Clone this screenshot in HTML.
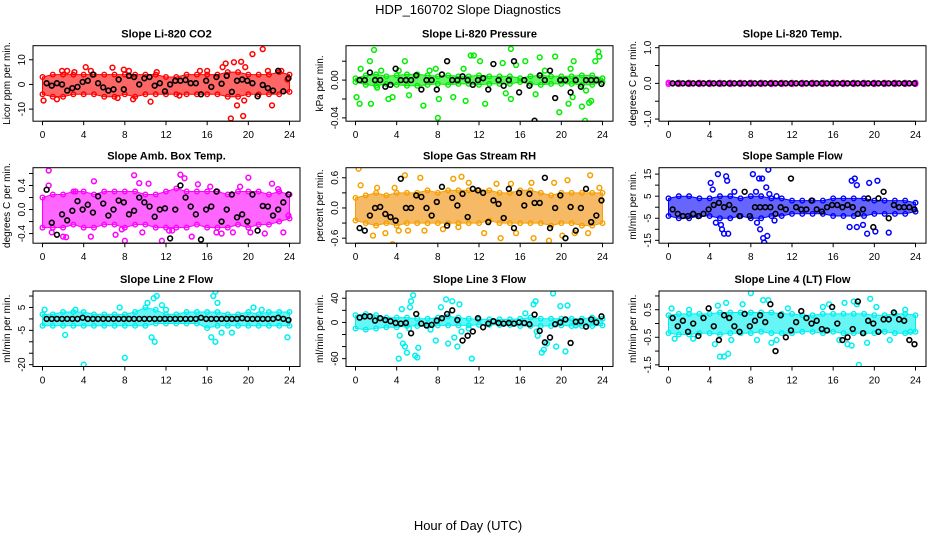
<!DOCTYPE html>
<html><head><meta charset="utf-8">
<style>
html,body{margin:0;padding:0;background:#fff;}
svg{display:block;font-family:"Liberation Sans",sans-serif;}
</style></head>
<body>
<svg id="chart" width="936" height="540" viewBox="0 0 936 540">
<text x="468" y="14" text-anchor="middle" font-size="13">HDP_160702  Slope Diagnostics</text>
<text x="468" y="530" text-anchor="middle" font-size="13">Hour of Day (UTC)</text>
</svg>
<script>
// ---- shared x data ----
const bandHours = [0,1,2,3,4,5,6,7,8,9,10,11,12,13,14,15,16,17,18,19,20,21,22,23,24];
const xTicks = [0,4,8,12,16,20,24];

// ---- P1 CO2 ----
const co2BandLo = [-4,-5,-5,-4,-4,-4,-5,-5,-4,-5,-4,-4,-4,-4,-4,-4,-4,-4,-5,-5,-4,-4,-4,-4,-3];
const co2BandHi = [3,4,4,4,4,4,4,4,4,4,4,4,3,3,4,4,4,4,5,5,4,4,4,5,4];
const co2OutX = [0.1,1.4,1.9,2.4,3.1,4.2,4.7,6.8,7.3,7.9,8.4,8.8,10.5,11.1,13.3,15.3,16.0,17.5,17.8,18.3,18.6,18.9,19.3,19.5,19.7,19.6,20.4,21.4,22.3,21.9,23.2,23.8];
const co2OutY = [-6.5,-6,5.5,5.5,5,7,5.5,6.8,-5.5,6,5.5,-6,-7,5,-4.5,5.5,5.5,7,8.5,-13.8,9,-8.5,9.2,-12.8,7,-6.5,12.3,14.3,-8.5,5.5,5.5,2];
const co2Means = [0.5,-0.5,0.5,0,-2.5,-1.5,-1,1,1.5,4,0.5,-1.2,-2.5,-2,2,-2,3.5,3,0,2.5,3,-0.5,0.5,-2.8,0,1.5,1.5,1.8,0.5,0.5,-4,1.5,-1,3,0.3,3.5,-3,1.5,2,1.5,0.5,-4.8,-0.2,-1.5,-2.5,5.5,-2.8,2.5];

// ---- P2 Pressure ----
const presBandLo = [-0.002,-0.005,-0.006,-0.004,-0.005,-0.006,-0.006,-0.005,-0.004,-0.005,-0.004,-0.004,-0.005,-0.004,-0.004,-0.004,-0.002,-0.004,-0.005,-0.004,-0.004,-0.004,-0.005,-0.005,-0.002];
const presBandHi = [0.002,0.005,0.006,0.004,0.005,0.006,0.006,0.005,0.004,0.005,0.004,0.004,0.005,0.004,0.004,0.004,0.002,0.004,0.005,0.004,0.004,0.004,0.005,0.005,0.002];
const presOutX = [0.1,0.4,0.5,1.4,1.5,1.8,2.1,2.5,3.2,3.6,4.2,4.8,5.2,6.6,7.2,7.8,8.0,8.1,9.5,10.5,10.7,11.2,11.5,12.1,12.6,14.3,14.6,15.1,15.1,15.6,16.5,17.5,17.9,18.4,19.4,19.8,20.7,20.9,21.2,21.1,22.0,22.3,22.4,22.7,22.9,23.3,23.6,23.7];
const presOutY = [-0.018,-0.025,0.012,0.02,-0.025,0.032,-0.008,0.01,-0.02,-0.018,0.01,0.02,-0.016,-0.027,0.01,0.012,-0.04,-0.02,-0.018,0.012,-0.022,0.026,0.026,0.02,-0.025,0.018,-0.014,0.033,-0.02,0.016,0.02,-0.015,0.024,0.01,0.025,-0.034,-0.025,0.012,0.02,-0.018,-0.028,-0.043,-0.011,-0.024,-0.022,0.02,0.03,0.025];
const presMeans = [0,0,0.008,0,0,-0.007,-0.005,0.012,0,0,0,0.005,-0.01,0,0,-0.01,0.006,0.02,0,0,0.004,0,-0.005,0,0.002,-0.01,0.017,0,-0.006,0,0.02,-0.013,0,-0.006,-0.043,0.005,0,0.01,-0.019,0,0,-0.013,0,-0.007,0,0,0,-0.004];

// ---- P3 Li-820 Temp ----
const ltBandLo = [-0.02,-0.02,-0.02,-0.02,-0.02,-0.02,-0.02,-0.02,-0.02,-0.02,-0.02,-0.02,-0.02,-0.02,-0.02,-0.02,-0.02,-0.02,-0.02,-0.02,-0.02,-0.02,-0.02,-0.02,-0.02];
const ltBandHi = [0.02,0.02,0.02,0.02,0.02,0.02,0.02,0.02,0.02,0.02,0.02,0.02,0.02,0.02,0.02,0.02,0.02,0.02,0.02,0.02,0.02,0.02,0.02,0.02,0.02];
const ltOutX = [];
const ltOutY = [];
const ltMeans = [0,0,0,0,0,0,0,0,0,0,0,0,0,0,0,0,0,0,0,0,0,0,0,0,0,0,0,0,0,0,0,0,0,0,0,0,0,0,0,0,0,0,0,0,0,0,0,0];

// ---- P4 Amb Box Temp ----
const abBandLo = [-0.3,-0.3,-0.3,-0.25,-0.3,-0.3,-0.25,-0.25,-0.3,-0.25,-0.25,-0.3,-0.3,-0.3,-0.3,-0.25,-0.3,-0.3,-0.3,-0.25,-0.3,-0.25,-0.25,-0.2,-0.15];
const abBandHi = [0.2,0.25,0.25,0.3,0.3,0.25,0.3,0.3,0.3,0.3,0.25,0.25,0.3,0.35,0.3,0.3,0.3,0.3,0.25,0.3,0.3,0.3,0.25,0.3,0.25];
const abOutX = [0.6,0.6,0.9,2.0,2.3,3.2,4.7,5.0,7.1,7.7,8.0,8.9,9.4,9.7,10.3,11.6,12.3,12.6,13.4,13.8,14.5,15.1,16.3,16.9,17.4,18.5,19.2,20.0,20.2,21.6,22.3,22.9,23.4,23.9];
const abOutY = [0.65,0.4,-0.38,-0.45,-0.46,0.3,-0.45,0.47,-0.42,-0.33,-0.52,0.57,0.44,-0.38,0.43,-0.52,-0.35,-0.35,0.58,0.52,-0.45,0.42,0.38,-0.38,-0.4,-0.38,0.38,0.53,-0.38,-0.4,0.43,0.34,-0.38,-0.1];
const abMeans = [0.33,-0.22,-0.42,-0.08,-0.18,-0.02,0.14,0.0,0.08,-0.05,0.22,0.1,-0.1,0.0,0.15,0.12,-0.08,-0.02,0.2,0.12,0.05,-0.12,0.0,0.02,-0.48,0.0,0.4,0.2,0.05,-0.08,-0.5,0.0,0.05,0.3,-0.2,0.0,0.25,-0.13,-0.08,-0.2,0.25,-0.35,0.06,0.05,-0.1,0.0,0.12,0.25];

// ---- P5 Gas Stream RH ----
const rhBandLo = [-0.25,-0.3,-0.35,-0.3,-0.35,-0.3,-0.3,-0.3,-0.3,-0.3,-0.3,-0.3,-0.3,-0.25,-0.3,-0.3,-0.3,-0.3,-0.3,-0.35,-0.3,-0.3,-0.35,-0.35,-0.3];
const rhBandHi = [0.2,0.25,0.3,0.25,0.3,0.3,0.3,0.35,0.3,0.35,0.35,0.35,0.35,0.35,0.3,0.3,0.35,0.35,0.3,0.25,0.3,0.3,0.3,0.3,0.3];
const rhOutX = [0.3,0.5,1.7,2.1,2.9,3.6,3.8,4.2,4.8,5.1,6.3,6.7,8.5,9.5,10.0,10.3,11.0,12.5,13.7,14.1,15.1,15.6,17.1,17.3,18.8,19.3,20.1,20.6,21.3,22.6,22.8,23.7];
const rhOutY = [0.78,0.45,-0.55,0.4,-0.5,-0.72,0.4,-0.45,0.65,-0.45,0.6,-0.45,-0.42,0.58,-0.38,0.62,0.5,-0.5,0.48,-0.6,0.48,-0.5,0.5,-0.6,-0.65,0.5,-0.55,0.55,-0.5,-0.5,0.65,0.4];
const rhMeans = [-0.4,-0.45,-0.15,0.0,0.02,-0.12,-0.18,-0.25,0.58,0.0,0.0,0.25,0.22,0.0,-0.15,0.12,0.42,-0.35,0.2,0.05,0.28,-0.18,0.38,0.35,0.3,-0.28,0.15,0.08,-0.2,0.38,-0.4,0.3,0.05,0.28,0.1,0.1,0.6,-0.4,0.0,0.25,-0.6,0.02,-0.45,0.0,0.38,-0.28,-0.15,0.15];

// ---- P6 Sample Flow ----
const sfBandLo = [-4,-5,-5,-4,-4,-5,-5,-4,-5,-5,-4,-4,-3,-3,-3,-3,-4,-4,-4,-4,-3,-3,-3,-3,-2];
const sfBandHi = [4,5,5,4,4,5,5,4,5,5,4,4,3,3,3,3,4,4,4,4,3,3,3,3,2];
const sfOutX = [4.1,4.3,4.6,4.8,5.1,5.2,5.4,5.6,5.8,5.7,6.4,8.2,8.5,8.6,8.8,8.9,9.1,9.2,9.3,9.5,9.6,9.7,9.8,10.3,10.5,17.6,17.8,18.1,18.3,18.3,18.9,19.3,19.5,20.1,20.3,21.4];
const sfOutY = [11,8,-7,15,-8,-10,-12,14,-12,12,7,15,7,-7,13,-10,13,-14,-16,9,-13,17,6,-6,5,-9,12,13,-9,10,-8,-12,11,-11,12,-11.5];
const sfMeans = [-1,-3,-4,-4,-3,-4,-3,-1,1,2,0,1,-1,-4,7,-4,0,0,0,0,-3,0,-1,13,0,-1,-1,3,-1,-2,0,1,1,0,1,0,-3,-1,4,-9,4,7,-5,1,0,0,0,-1];

// ---- P7 Line 2 Flow ----
const l2BandLo = [-3,-3,-3,-3,-3,-3,-3,-3,-3,-3,-3,-2,-2,-2,-2,-2,-4,-3,-3,-3,-3,-3,-3,-3,-3];
const l2BandHi = [2,2,3,3,3,2,2,2,2,3,5,4,2,2,3,3,3,3,2,2,3,2,3,3,3];
const l2OutX = [0.2,2.2,3.2,4.0,7.5,8.0,10.2,10.6,10.9,10.8,11.1,11.6,12.0,16.6,16.8,17.0,16.4,16.8,17.4,18.4,20.5,21.3,23.8];
const l2OutY = [4,-7,4,-20,5,-17,7,-8,-10,9,10,6,4,10,12,7,-8,-10,-6,-6,5,4,-8];
const l2Means = [0,0,0,0,0,0,0,0.5,0,0,0,0,0,0,0,0,0,0,0,0,0,0,0,0,0,0,0,0,0,0,0.5,0,0,0,0,0,0,0,0.3,0,0,0,0,0,0,0.5,0,-0.5];

// ---- P8 Line 3 Flow ----
const l3BandLo = [-10,-12,-10,-8,-8,-6,-6,-6,-5,-5,-5,-5,-4,-4,-4,-4,-6,-6,-6,-6,-5,-6,-6,-6,-5];
const l3BandHi = [12,14,12,8,8,8,6,6,8,10,8,6,5,5,5,5,6,8,6,6,6,6,6,8,6];
const l3OutX = [4.2,4.3,4.5,4.6,4.8,5.0,5.2,5.3,5.4,5.6,5.8,6.0,6.1,7.3,7.8,8.3,8.8,9.0,9.4,9.6,9.9,10.1,10.3,11.0,11.3,16.5,17.3,17.5,17.6,17.7,18.1,18.3,18.6,19.2,19.5,19.9,20.4,20.6,21.4];
const l3OutY = [-60,-22,22,-35,-40,-50,-10,25,35,45,-55,-58,-42,-12,-30,25,38,-35,35,-25,-40,30,-15,-10,-60,15,30,35,-15,-22,-50,-45,-35,48,-40,27,-48,28,-5];
const l3Means = [8,10,10,3,7,4,2,-1,-2,-1,-18,14,-2,-5,-4,3,7,14,20,4,-30,-22,-15,7,-8,-2,2,-1,-2,-1,-2,0,-1,-3,13,-14,-33,-25,-3,0,5,-34,1,2,-7,5,0,10];

// ---- P9 Line 4 (LT) Flow ----
const l4BandLo = [-0.35,-0.4,-0.4,-0.35,-0.35,-0.4,-0.35,-0.35,-0.35,-0.3,-0.35,-0.35,-0.35,-0.3,-0.3,-0.35,-0.3,-0.35,-0.35,-0.35,-0.35,-0.3,-0.35,-0.35,-0.3];
const l4BandHi = [0.3,0.35,0.35,0.35,0.35,0.4,0.4,0.4,0.4,0.4,0.4,0.35,0.35,0.3,0.3,0.35,0.35,0.35,0.35,0.35,0.3,0.3,0.35,0.35,0.3];
const l4OutX = [0.3,0.6,2.0,2.4,4.5,4.8,5.0,5.4,5.6,5.8,6.1,7.2,8.0,8.6,9.2,9.7,10.0,10.5,11.6,15.0,15.6,16.6,17.1,17.4,17.8,18.0,18.5,18.3,19.3,19.6,20.2,21.5,23.0,23.5];
const l4OutY = [0.55,-0.55,0.5,-0.55,-0.75,0.65,-1.2,-1.2,0.75,-1.1,-0.6,0.7,1.1,-0.6,0.85,0.85,-0.7,-0.6,0.55,0.6,0.7,-0.6,0.75,-0.75,-0.8,0.8,-1.5,0.7,-0.7,0.9,0.6,-0.6,0.5,-0.3];
const l4Means = [0.2,-0.1,0.1,-0.3,0,-0.45,0.2,0.55,-0.1,-0.6,0.3,0.2,-0.1,-0.3,0.35,-0.1,0.1,0.3,0.05,0.7,-1.0,0.3,-0.5,-0.25,0.05,0.45,0.2,0,0.1,-0.2,-0.25,0.6,0.0,-0.6,-0.5,-0.2,0.8,-0.35,0.1,0.0,-0.3,0.15,0.15,0.4,0.15,0.1,-0.6,-0.75];

// ---- layout (not data) ----
const NS = "http://www.w3.org/2000/svg";
const svg = document.getElementById('chart');
const colLeft = [33, 346, 659];
const rowTop = [45.7, 167.7, 291];
const boxW = 267, boxH = 75.5;

const panels = [
 {key:'co2', title:'Slope Li-820 CO2', ylab:'Licor ppm per min.', col:'#ff0000', dom:[-14.9,15.7], ticks:[-10,0,10], labels:[-10,0,10], fmt:v=>String(v), lo:co2BandLo, hi:co2BandHi, ox:co2OutX, oy:co2OutY, m:co2Means},
 {key:'pressure', title:'Slope Li-820 Pressure', ylab:'kPa per min.', col:'#00ee00', dom:[-0.0435,0.0364], ticks:[-0.04,-0.02,0,0.02], labels:[-0.04,0], fmt:v=>v.toFixed(2), lo:presBandLo, hi:presBandHi, ox:presOutX, oy:presOutY, m:presMeans},
 {key:'li820-temp', title:'Slope Li-820 Temp.', ylab:'degrees C per min.', col:'#ff00ff', dom:[-1.06,1.056], ticks:[-1,-0.5,0,0.5,1], labels:[-1,0,1], fmt:v=>v.toFixed(1), lo:ltBandLo, hi:ltBandHi, ox:ltOutX, oy:ltOutY, m:ltMeans},
 {key:'amb-box-temp', title:'Slope Amb. Box Temp.', ylab:'degrees C per min.', col:'#ff00ff', dom:[-0.56,0.696], ticks:[-0.4,-0.2,0,0.2,0.4,0.6], labels:[-0.4,0,0.4], fmt:v=>v.toFixed(1), lo:abBandLo, hi:abBandHi, ox:abOutX, oy:abOutY, m:abMeans},
 {key:'gas-stream-rh', title:'Slope Gas Stream RH', ylab:'percent per min.', col:'#f5a000', dom:[-0.70,0.80], ticks:[-0.6,-0.3,0,0.3,0.6], labels:[-0.6,0,0.6], fmt:v=>v.toFixed(1), lo:rhBandLo, hi:rhBandHi, ox:rhOutX, oy:rhOutY, m:rhMeans},
 {key:'sample-flow', title:'Slope Sample Flow', ylab:'ml/min per min.', col:'#0000ff', dom:[-16.3,17.9], ticks:[-15,-10,-5,0,5,10,15], labels:[-15,-5,5,15], fmt:v=>String(v), lo:sfBandLo, hi:sfBandHi, ox:sfOutX, oy:sfOutY, m:sfMeans},
 {key:'line2-flow', title:'Slope Line 2 Flow', ylab:'ml/min per min.', col:'#00f0f0', dom:[-20.8,12.2], ticks:[-20,-15,-10,-5,0,5,10], labels:[-20,-5,5], fmt:v=>String(v), lo:l2BandLo, hi:l2BandHi, ox:l2OutX, oy:l2OutY, m:l2Means},
 {key:'line3-flow', title:'Slope Line 3 Flow', ylab:'ml/min per min.', col:'#00f0f0', dom:[-73,52], ticks:[-60,-40,-20,0,20,40], labels:[-60,0,40], fmt:v=>String(v), lo:l3BandLo, hi:l3BandHi, ox:l3OutX, oy:l3OutY, m:l3Means},
 {key:'line4-flow', title:'Slope Line 4 (LT) Flow', ylab:'ml/min per min.', col:'#00f0f0', dom:[-1.56,1.18], ticks:[-1.5,-1,-0.5,0,0.5,1], labels:[-1.5,-0.5,0.5], fmt:v=>v.toFixed(1), lo:l4BandLo, hi:l4BandHi, ox:l4OutX, oy:l4OutY, m:l4Means}
];

function mk(tag, attrs, parent){
  const e = document.createElementNS(NS, tag);
  for (const k in attrs) e.setAttribute(k, attrs[k]);
  (parent||svg).appendChild(e);
  return e;
}

panels.forEach((p, i) => {
  const L = colLeft[i % 3], T = rowTop[Math.floor(i / 3)];
  const B = T + boxH;
  const xs = h => L + 9.5 + h / 24 * 247;
  const ys = v => B - (v - p.dom[0]) / (p.dom[1] - p.dom[0]) * boxH;
  const g = mk('g', {});
  
  

  const clipId = 'clip' + i;
  const cp = mk('clipPath', {id: clipId}, g);
  mk('rect', {x: L, y: T, width: boxW, height: boxH}, cp);
  const plot = mk('g', {'clip-path': 'url(#' + clipId + ')'}, g);

  // dense band
  let d = '';
  bandHours.forEach((h, k) => { d += (k ? 'L' : 'M') + xs(h).toFixed(1) + ',' + ys(p.hi[k]).toFixed(1); });
  for (let k = bandHours.length - 1; k >= 0; k--) d += 'L' + xs(bandHours[k]).toFixed(1) + ',' + ys(p.lo[k]).toFixed(1);
  const band = mk('path', {d: d + 'Z', fill: p.col, 'fill-opacity': 0.6, stroke: p.col, 'stroke-width': 1}, plot);
  
  
  if (p.key === 'gas-stream-rh') band.setAttribute('fill', '#f08a00');

  // band edge points
  bandHours.forEach((h, k) => {
    [p.hi[k], p.lo[k]].forEach(v => {
      const c = mk('circle', {cx: xs(h), cy: ys(v), r: 2.3, fill: 'none', stroke: p.col, 'stroke-width': 1.4}, plot);
      
      
    });
  });

  // outlier points
  p.ox.forEach((h, k) => {
    const c = mk('circle', {cx: xs(h), cy: ys(p.oy[k]), r: 2.4, fill: 'none', stroke: p.col, 'stroke-width': 1.5}, plot);
    
    
  });

  // black hourly mean points
  p.m.forEach((v, k) => {
    const h = (k + 1) * 0.5 - 0.1;
    const c = mk('circle', {cx: xs(h), cy: ys(v), r: 2.4, fill: 'none', stroke: '#000', 'stroke-width': 1.6}, plot);
    
    
  });

  // box
  const box = mk('rect', {x: L, y: T, width: boxW, height: boxH, fill: 'none', stroke: '#000', 'stroke-width': 1}, g);
  
  

  // x axis
  const xa = mk('g', {}, g);
  
  
  mk('line', {x1: xs(0), x2: xs(24), y1: B, y2: B, stroke: '#000'}, xa);
  xTicks.forEach(t => {
    mk('line', {x1: xs(t), x2: xs(t), y1: B, y2: B + 4, stroke: '#000'}, xa);
    const tx = mk('text', {x: xs(t), y: B + 17, 'text-anchor': 'middle', 'font-size': 10}, xa);
    tx.textContent = t;
    
    
  });

  // y axis
  const ya = mk('g', {}, g);
  
  
  const tmin = Math.min(...p.ticks), tmax = Math.max(...p.ticks);
  mk('line', {x1: L, x2: L, y1: ys(tmin), y2: ys(tmax), stroke: '#000'}, ya);
  p.ticks.forEach(t => {
    mk('line', {x1: L - 4, x2: L, y1: ys(t), y2: ys(t), stroke: '#000'}, ya);
  });
  p.labels.forEach(t => {
    const yy = ys(t), xx = L - 8;
    const tx = mk('text', {x: xx, y: yy, 'text-anchor': 'middle', 'font-size': 10, transform: 'rotate(-90 ' + xx + ' ' + yy + ')'}, ya);
    tx.textContent = p.fmt(t);
    
    
  });

  // y title
  const yc = T + boxH / 2, xt = L - 23;
  const yt = mk('text', {x: xt, y: yc, 'text-anchor': 'middle', 'font-size': 10, transform: 'rotate(-90 ' + xt + ' ' + yc + ')'}, g);
  yt.textContent = p.ylab;
  
  

  // panel title
  const pt = mk('text', {x: L + boxW / 2, y: T - 8, 'text-anchor': 'middle', 'font-size': 11, 'font-weight': 'bold'}, g);
  pt.textContent = p.title;
  
  
});
</script>
</body></html>
